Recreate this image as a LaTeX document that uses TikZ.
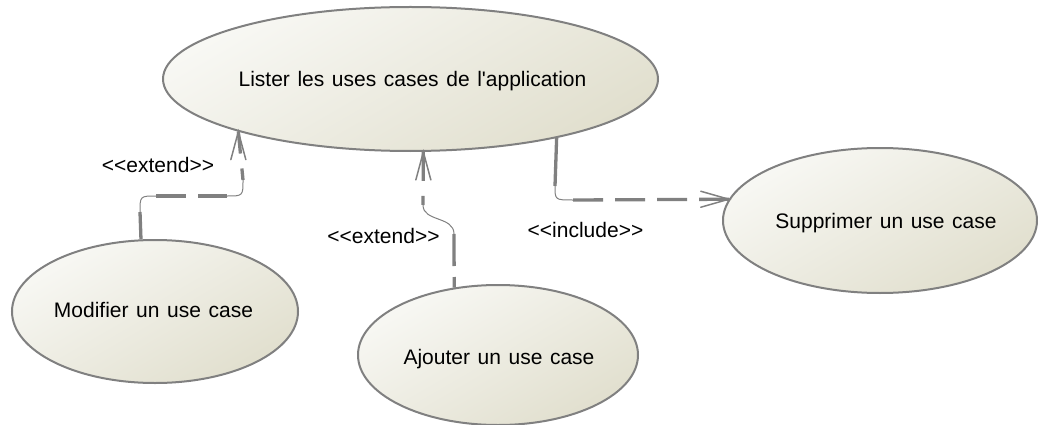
\documentclass[tikz,border=0pt]{standalone}
\usepackage{fontspec}
\setmainfont{Liberation Sans}[Ligatures=TeXOff, WordSpace=1.3]
\usetikzlibrary{shapes.geometric}

\definecolor{edgegray}{HTML}{808080}
\definecolor{fillA}{HTML}{F8F8F4}
\definecolor{fillB}{HTML}{E1DFCE}

\begin{document}
\begin{tikzpicture}[x=1pt,y=-1pt,
 uc/.style={ellipse, draw=edgegray, line width=2pt, inner sep=0pt,
   top color=fillA, bottom color=fillB, shading angle=30},
 txt/.style={font=\fontsize{21}{25}\selectfont, text=black, inner sep=0pt, anchor=base},
 dsh/.style={draw=edgegray, line width=3.3pt, dash pattern=on 30pt off 12pt},
 thinc/.style={draw=edgegray, line width=1pt},
 barb/.style={draw=edgegray, line width=1.5pt, line cap=round, line join=miter}]
\useasboundingbox (0,0) rectangle (1038,425);

% use cases
\node[uc, minimum width=495pt, minimum height=144pt] (lister) at (410.5,79) {};
\node[uc, minimum width=286pt, minimum height=143pt] (mod) at (155,311.5) {};
\node[uc, minimum width=280pt, minimum height=140pt] (aj) at (498,355) {};
\node[uc, minimum width=314pt, minimum height=145pt] (sup) at (880,220.5) {};

\node[txt] (listerT) at (412.5,87) {Lister les uses cases de l'application};
\node[txt] (modT) at (153.5,317) {Modifier un use case};
\node[txt] (ajT) at (499,364) {Ajouter un use case};
\node[txt] (supT) at (886,228) {Supprimer un use case};

% connector 1: Modifier -> Lister (extend)
\coordinate (c1a) at (140,212);
\coordinate (c1b) at (156,196);
\coordinate (c1c) at (227,196);
\coordinate (c1d) at (243,180);
\draw[dsh] (mod.101.9) -- (c1a);
\draw[thinc] (c1a) .. controls (140,196) .. (c1b);
\draw[dsh] (c1b) -- (c1c);
\draw[thinc] (c1c) .. controls (243,196) .. (c1d);
\draw[dsh, dash pattern=on 22pt off 15pt] (lister.197.6) -- (c1d);
\draw[barb] (lister.197.6) ++(-7.5,28) -- (lister.197.6) -- ++(7.5,28);

% connector 2: Ajouter -> Lister (extend)
\coordinate (c2a) at (454,234);
\coordinate (c2b) at (423,205);
\draw[dsh, dash pattern=on 32pt off 11pt] (c2a) -- (aj.123.5);
\draw[thinc] (c2b) .. controls (423,222) and (454,216) .. (c2a);
\draw[dsh, dash pattern=on 29pt off 15pt] (lister.280) -- (c2b);
\draw[barb] (lister.280) ++(-7.5,28) -- (lister.280) -- ++(7.5,28);

% connector 3: Lister -> Supprimer (include)
\coordinate (c3a) at (555,186);
\coordinate (c3b) at (573,200);
\draw[dsh, solid] (lister.338) -- (c3a);
\draw[thinc] (c3a) .. controls (555,200) .. (c3b);
\draw[dsh] (c3b) -- (sup.172.25);
\draw[barb] (sup.172.25) ++(-28,-8) -- (sup.172.25) -- ++(-28,8);

% labels
\node[txt] (ext1) at (158,172) {<<extend>>};
\node[txt] (ext2) at (383.5,243) {<<extend>>};
\node[txt] (inc) at (585.5,237) {<<include>>};
\end{tikzpicture}
\end{document}
